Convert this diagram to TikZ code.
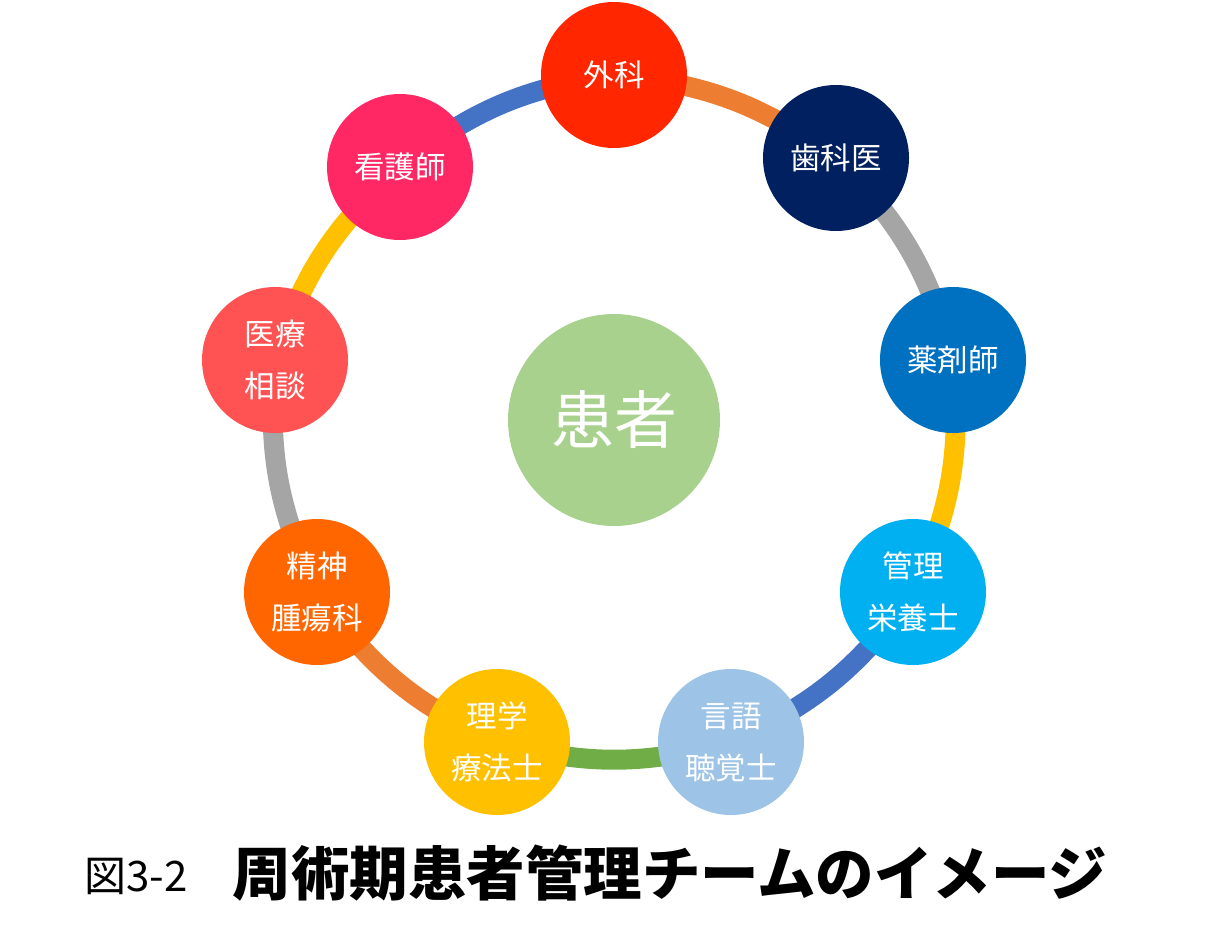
\documentclass[tikz,border=0pt]{standalone}
\usepackage{fontspec}
\setmainfont{Noto Sans CJK JP}
\usetikzlibrary{backgrounds}
\definecolor{cGeka}{RGB}{255,38,0}
\definecolor{cShika}{RGB}{0,32,96}
\definecolor{cYaku}{RGB}{0,112,192}
\definecolor{cEiyo}{RGB}{0,176,240}
\definecolor{cGengo}{RGB}{157,195,230}
\definecolor{cRigaku}{RGB}{255,192,0}
\definecolor{cSeishin}{RGB}{255,102,0}
\definecolor{cIryo}{RGB}{255,82,82}
\definecolor{cKango}{RGB}{255,40,100}
\definecolor{cPatient}{RGB}{169,209,142}
\definecolor{lOrange}{RGB}{237,125,49}
\definecolor{lGray}{RGB}{165,165,165}
\definecolor{lGold}{RGB}{255,192,0}
\definecolor{lBlue}{RGB}{68,114,196}
\definecolor{lGreen}{RGB}{112,173,71}
\begin{document}
\begin{tikzpicture}[x=1pt,y=-1pt,
  member/.style={circle,minimum size=146pt,inner sep=0pt,text=white,
    font=\fontsize{30.5}{52}\selectfont,align=center},
  link/.style={line width=20pt,bend left=15}]
\useasboundingbox (0,0) rectangle (1228,950);
\node[member,fill=cGeka] (geka) at (614,75) {外科};
\node[member,fill=cShika] (shika) at (836,158) {歯科医};
\node[member,fill=cYaku] (yaku) at (953,360) {薬剤師};
\node[member,fill=cEiyo] (eiyo) at (913,592) {管理\\栄養士};
\node[member,fill=cGengo] (gengo) at (731,742) {言語\\聴覚士};
\node[member,fill=cRigaku] (rigaku) at (497,742) {理学\\療法士};
\node[member,fill=cSeishin] (seishin) at (317,592) {精神\\腫瘍科};
\node[member,fill=cIryo] (iryo) at (275,360) {医療\\相談};
\node[member,fill=cKango] (kango) at (400,167) {看護師};
\node[circle,minimum size=212pt,inner sep=0pt,fill=cPatient,text=white,
  font=\fontsize{63}{63}\selectfont] (patient) at (614,420) {患者};
\begin{scope}[on background layer]
\draw[link,draw=lOrange] (geka.center) to (shika.center);
\draw[link,draw=lGray] (shika.center) to (yaku.center);
\draw[link,draw=lGold] (yaku.center) to (eiyo.center);
\draw[link,draw=lBlue] (eiyo.center) to (gengo.center);
\draw[link,draw=lGreen] (gengo.center) to (rigaku.center);
\draw[link,draw=lOrange] (rigaku.center) to (seishin.center);
\draw[link,draw=lGray] (seishin.center) to (iryo.center);
\draw[link,draw=lGold] (iryo.center) to (kango.center);
\draw[link,draw=lBlue] (kango.center) to (geka.center);
\end{scope}
\node[inner sep=0pt,font=\fontsize{42}{42}\selectfont] (capnum) at (136,876) {図3-2};
\node[inner sep=0pt,font=\bfseries\fontsize{58.5}{58.5}\selectfont] (captitle) at (670,873) {周術期患者管理チームのイメージ};
\end{tikzpicture}
\end{document}
